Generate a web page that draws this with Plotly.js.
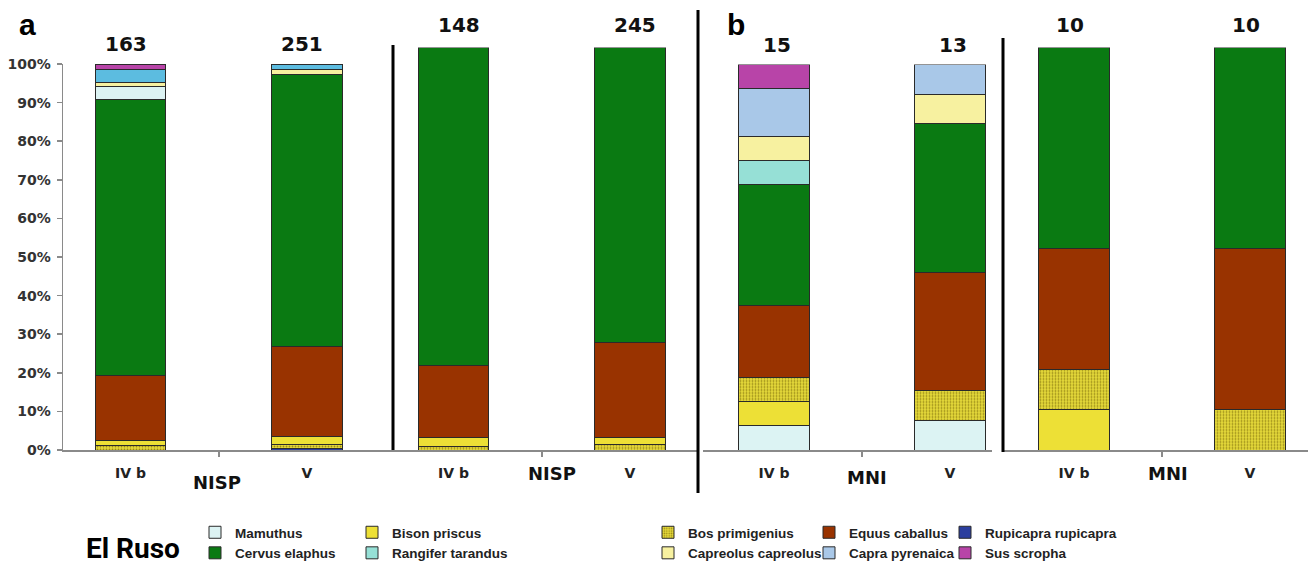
<!DOCTYPE html>
<html><head><meta charset="utf-8">
<script src="https://cdn.plot.ly/plotly-3.0.1.min.js"></script>
<style>html,body{margin:0;padding:0;background:#fff;} #chart{width:1316px;height:567px;}</style>
</head><body><div id="chart"></div>
<script>
// ================= DATA =================
const layers = ['IV b', 'V'];

// panel a (left): NISP, all taxa — % of NISP, stacked bottom -> top
const nispAllStack = ['Rupicapra rupicapra','Bos primigenius','Bison priscus','Equus caballus','Cervus elaphus','Mamuthus','Capreolus capreolus','Capra pyrenaica','Sus scropha'];
const nispAllIVb   = [0, 1.2, 1.2, 16.8, 71.7, 3.3, 1.0, 3.5, 1.3];
const nispAllV     = [0.5, 0.9, 2.0, 23.4, 70.4, 0, 1.4, 1.4, 0];
const nispAllN     = [163, 251];

// panel a (right): NISP, large ungulates
const nispUngStack = ['Bos primigenius','Bison priscus','Equus caballus','Cervus elaphus'];
const nispUngIVb   = [0.9, 2.2, 18.0, 78.9];
const nispUngV     = [1.4, 1.8, 23.6, 73.2];
const nispUngN     = [148, 245];

// panel b (left): MNI, all taxa
const mniAllStack  = ['Mamuthus','Bison priscus','Bos primigenius','Equus caballus','Cervus elaphus','Rangifer tarandus','Capreolus capreolus','Capra pyrenaica','Sus scropha'];
const mniAllIVb    = [6.25, 6.25, 6.25, 18.75, 31.25, 6.25, 6.25, 12.5, 6.25];
const mniAllV      = [7.69, 0, 7.69, 30.77, 38.46, 0, 7.69, 7.69, 0];
const mniAllN      = [15, 13];

// panel b (right): MNI, large ungulates
const mniUngStack  = ['Bison priscus','Bos primigenius','Equus caballus','Cervus elaphus'];
const mniUngIVb    = [10, 10, 30, 50];
const mniUngV      = [0, 10, 40, 50];
const mniUngN      = [10, 10];

const yTickStep = 10;

// ================= STYLE =================
const W = 1316, H = 567;
const px = v => v / W;
const py = v => 1 - v / H;

const colors = {
  'Mamuthus': '#DCF3F3',
  'Cervus elaphus': '#0A7A12',
  'Bison priscus': '#EDE036',
  'Rangifer tarandus': '#96E0D6',
  'Bos primigenius': '#E6DA3A',
  'Capreolus capreolus': '#F7F1A0',
  'Equus caballus': '#993300',
  'Capra pyrenaica': '#A9C8E8',
  'Rupicapra rupicapra': '#2B3E9E',
  'Sus scropha': '#B844A8'
};
const nispColors = {'Capra pyrenaica': '#5CBCE0'};
const legendOf = {
  'Mamuthus': ['legend',1], 'Cervus elaphus': ['legend',2],
  'Bison priscus': ['legend2',1], 'Rangifer tarandus': ['legend2',2],
  'Bos primigenius': ['legend3',1], 'Capreolus capreolus': ['legend3',2],
  'Equus caballus': ['legend4',1], 'Capra pyrenaica': ['legend4',2],
  'Rupicapra rupicapra': ['legend5',1], 'Sus scropha': ['legend5',2]
};

const panels = [
  {xa:'x3', ya:'y3', stack:mniAllStack,  ivb:mniAllIVb,  v:mniAllV,  n:mniAllN,  x0:703, x1:992,  c:[774,950],    top:64.5, nispCol:false, nShift:[3,19]},
  {xa:'x4', ya:'y4', stack:mniUngStack,  ivb:mniUngIVb,  v:mniUngV,  n:mniUngN,  x0:1003,x1:1308, c:[1074,1250],  top:47.5, nispCol:false, nShift:[-4,22.5]},
  {xa:'x',  ya:'y',  stack:nispAllStack, ivb:nispAllIVb, v:nispAllV, n:nispAllN, x0:63,  x1:394,  c:[130.5,307],  top:64,   nispCol:true,  nShift:[-5,20]},
  {xa:'x2', ya:'y2', stack:nispUngStack, ivb:nispUngIVb, v:nispUngV, n:nispUngN, x0:393, x1:697,  c:[453.5,630],  top:47.5, nispCol:true,  nShift:[5,23]}
];

const seen = {};
const traces = [];
const annotations = [];
const layout = {
  width: W, height: H,
  margin: {l:0, r:0, t:0, b:0, autoexpand: false},
  paper_bgcolor: '#fff', plot_bgcolor: 'rgba(0,0,0,0)',
  barmode: 'stack',
  showlegend: true,
  font: {family: 'Liberation Sans, Arial, sans-serif', color: '#222'},
  shapes: [],
  annotations: annotations
};

panels.forEach(p => {
  const unit = p.c[1] - p.c[0];
  const xKey = p.xa === 'x' ? 'xaxis' : 'xaxis' + p.xa.slice(1);
  const yKey = p.ya === 'y' ? 'yaxis' : 'yaxis' + p.ya.slice(1);
  layout[xKey] = {
    domain: [px(p.x0), px(p.x1)], anchor: p.ya, type: 'category',
    range: [(p.x0 - p.c[0]) / unit, (p.x1 - p.c[0]) / unit],
    showline: true, linecolor: '#8a8a8a', linewidth: 1.5,
    ticks: 'outside', tickson: 'boundaries', ticklen: 5, tickcolor: '#8a8a8a', tickwidth: 1.5,
    ticklabelstandoff: 10, automargin: false,
    tickfont: {family: 'DejaVu Sans, sans-serif', size: 14, weight: 'bold', color: '#222'},
    showgrid: false, zeroline: false, fixedrange: true
  };
  const isMainY = p.ya === 'y';
  layout[yKey] = {
    domain: [py(450), py(p.top)], anchor: p.xa, range: [0, 100],
    visible: isMainY, showgrid: false, zeroline: false, fixedrange: true, automargin: false,
    showline: isMainY, linecolor: '#8a8a8a', linewidth: 1.5,
    ticks: 'outside', ticklen: 5, tickcolor: '#8a8a8a', tickwidth: 1.5,
    tickmode: 'linear', tick0: 0, dtick: yTickStep, ticksuffix: '%', ticklabelstandoff: 3,
    tickfont: {family: 'DejaVu Sans, sans-serif', size: 14, weight: 'bold', color: '#333'}
  };
  p.stack.forEach((taxon, i) => {
    const vals = [p.ivb[i], p.v[i]].map(v => v > 0 ? v : null);
    if (vals[0] === null && vals[1] === null) return;
    const col = (p.nispCol && nispColors[taxon]) ? nispColors[taxon] : colors[taxon];
    const first = !seen[taxon];
    seen[taxon] = true;
    const marker = {color: col, line: {color: '#2a2a2a', width: 1}};
    if (taxon === 'Bos primigenius') {
      marker.pattern = {shape: '.', bgcolor: col, fgcolor: '#9a8a18', size: 3, solidity: 0.3, fillmode: 'replace'};
    }
    traces.push({
      type: 'bar', name: taxon, x: layers, y: vals,
      xaxis: p.xa, yaxis: p.ya, width: 0.4,
      marker: marker,
      legendgroup: taxon, showlegend: first,
      legend: legendOf[taxon][0], legendrank: legendOf[taxon][1],
      hoverinfo: 'name+y'
    });
  });
  layers.forEach((lay, j) => {
    annotations.push({
      xref: p.xa, yref: p.ya, x: lay, y: 100, text: String(p.n[j]),
      showarrow: false, xanchor: 'center', yanchor: 'middle',
      xshift: p.nShift[0], yshift: p.nShift[1],
      font: {family: 'DejaVu Sans, sans-serif', size: 20, weight: 'bold', color: '#111'}
    });
  });
});

// axis-group labels
[['NISP',217,482.5],['NISP',552,473],['MNI',867,477.5],['MNI',1168,473]].forEach(a => {
  annotations.push({xref:'paper', yref:'paper', x:px(a[1]), y:py(a[2]), text:a[0], showarrow:false,
    xanchor:'center', yanchor:'middle', font:{family:'DejaVu Sans, sans-serif', size:18, weight:'bold', color:'#111'}});
});
// panel letters
[['a',27.5,25],['b',736,24]].forEach(a => {
  annotations.push({xref:'paper', yref:'paper', x:px(a[1]), y:py(a[2]), text:a[0], showarrow:false,
    xanchor:'center', yanchor:'middle', font:{family:'Liberation Sans, Arial, sans-serif', size:30, weight:'bold', color:'#000'}});
});
annotations.push({xref:'paper', yref:'paper', x:px(132.5), y:py(548), text:'El Ruso', showarrow:false,
  xanchor:'center', yanchor:'middle', font:{family:'Roboto, sans-serif', size:28, weight:'bold', color:'#000'}});

// separators
[[393,45,450],[698,10,493],[1003,38,452]].forEach(s => {
  layout.shapes.push({type:'line', xref:'paper', yref:'paper', x0:px(s[0]), x1:px(s[0]), y0:py(s[1]), y1:py(s[2]),
    line:{color:'#000', width:3}});
});

// legends (5 columns)
const legFont = {family: 'Liberation Sans, Arial, sans-serif', size: 13.5, weight: 'bold', color: '#222'};
[['legend',195],['legend2',352],['legend3',648],['legend4',809],['legend5',945]].forEach(l => {
  layout[l[0]] = {x: px(l[1]), xanchor: 'left', y: py(517), yanchor: 'top', orientation: 'v',
    bgcolor: 'rgba(0,0,0,0)', borderwidth: 0, font: legFont, tracegroupgap: 0, itemwidth: 30};
});

Plotly.newPlot('chart', traces, layout, {displayModeBar: false, staticPlot: true});
</script>
</body></html>
